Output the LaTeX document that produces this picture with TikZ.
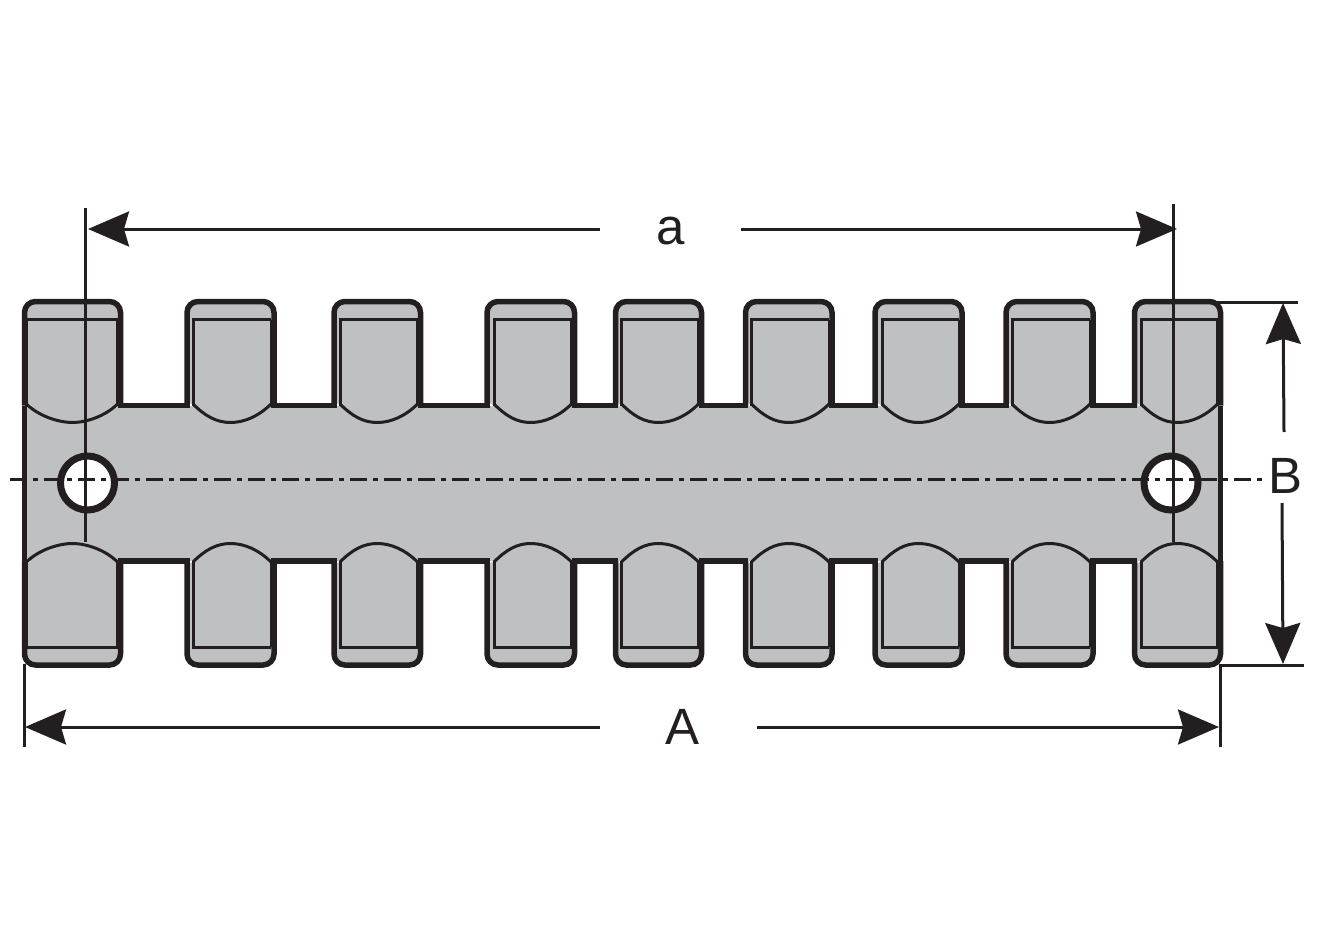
\documentclass[tikz,border=0pt]{standalone}
\usepackage{fontspec}
\setmainfont{Liberation Sans}
\usetikzlibrary{arrows.meta}
\definecolor{ink}{HTML}{231F20}
\definecolor{bodygrey}{HTML}{BFC0C2}
\tikzset{
  outline/.style={draw=ink,line width=5.5pt},
  innerline/.style={draw=ink,line width=3pt},
  dimline/.style={draw=ink,line width=3pt},
  dimarrow/.style={draw=ink,line width=3pt,-{Stealth[length=41pt,width=35pt,inset=5pt,fill=ink]}},
  centreline/.style={draw=ink,line width=3pt,dash pattern=on 17pt off 6pt on 5pt off 6pt},
  dimlabel/.style={text=ink,inner sep=0pt,font=\fontsize{51}{51}\selectfont},
  hole/.style={draw=ink,line width=7pt,fill=white,circle,minimum size=54pt,inner sep=0pt}
}
\begin{document}
\begin{tikzpicture}[x=1pt,y=-1pt]
\useasboundingbox (0,0) rectangle (1322,944);
\def\R{11}
\def\YT{301.5}\def\YB{665}\def\YNT{405.5}\def\YNB{561}
% body fill
\fill[bodygrey] (24.5,\YNT) rectangle (1220.5,\YNB);
% teeth: left/right/offset of left inner wall/next tooth's left edge
\foreach \l/\r/\o/\n in {24.5/120.5/2/187,187/274/6/334,334/420.5/6/487,487/574.5/7/615.5,615.5/701.5/6/745.5,745.5/832/6/875,875/962/7/1006,1006/1093/6/1134.5,1134.5/1220.5/6.5/0}{
  \pgfmathsetmacro{\il}{\l+\o}
  \pgfmathsetmacro{\ir}{\r-3}
  \pgfmathsetmacro{\m}{(\l+\r)/2}
  % fills
  \fill[bodygrey,rounded corners=\R pt] (\l,\YNT+1) -- (\l,\YT) -- (\r,\YT) -- (\r,\YNT+1) -- cycle;
  \fill[bodygrey,rounded corners=\R pt] (\l,\YNB-1) -- (\l,\YB) -- (\r,\YB) -- (\r,\YNB-1) -- cycle;
  % outer contour of the tooth
  \draw[outline,rounded corners=\R pt] (\l,\YNT) -- (\l,\YT) -- (\r,\YT) -- (\r,\YNT);
  \draw[outline,rounded corners=\R pt] (\l,\YNB) -- (\l,\YB) -- (\r,\YB) -- (\r,\YNB);
  % cap lines and inner walls
  \draw[innerline] (\il-1.5,319.5) -- (\ir,319.5);
  \draw[innerline] (\il-1.5,647) -- (\ir,647);
  \draw[innerline] (\il,319.5) -- (\il,\YNT);
  \draw[innerline] (\ir,319.5) -- (\ir,\YNT);
  \draw[innerline] (\il,\YNB) -- (\il,647);
  \draw[innerline] (\ir,\YNB) -- (\ir,647);
  % root arcs
  \draw[innerline] (\il,404) .. controls (\il+12,416) and (\m-14,422.5) .. (\m,422.5) .. controls (\m+14,422.5) and (\ir-12,416) .. (\ir,404);
  \draw[innerline] (\il,562) .. controls (\il+12,550) and (\m-14,543.5) .. (\m,543.5) .. controls (\m+14,543.5) and (\ir-12,550) .. (\ir,562);
  % notch lines to the next tooth
  \ifdim\n pt>1pt
    \draw[outline] (\r-2.75,\YNT) -- (\n+2.75,\YNT);
    \draw[outline] (\r-2.75,\YNB) -- (\n+2.75,\YNB);
  \fi
}
% body ends
\draw[outline] (24.5,\YNT) -- (24.5,\YNB);
\draw[outline] (1220.5,\YNT) -- (1220.5,\YNB);
% holes
\node[hole] (holeL) at (87.5,483) {};
\node[hole] (holeR) at (1171,483) {};
% labels
\node[dimlabel] (la) at (671,231) {a};
\node[dimlabel] (lA) at (682,727) {A};
\node[dimlabel] (lB) at (1285,476) {B};
% free ends of the dimension lines
\coordinate (aL) at (88,229);   \coordinate (aLs) at (600,229);
\coordinate (aR) at (1177,229); \coordinate (aRs) at (741,229);
\coordinate (AL) at (25,727);   \coordinate (ALs) at (600,727);
\coordinate (AR) at (1219,727); \coordinate (ARs) at (757,727);
\coordinate (BT) at (1283,303); \coordinate (BTs) at (1284,432);
\coordinate (BB) at (1283,664); \coordinate (BBs) at (1282,503);
\coordinate (cL) at (10,479);   \coordinate (cR) at (1265,479);
% centre and extension lines
\draw[centreline] (cL) -- (cR);
\draw[dimline] (85,208) -- (85,542);
\draw[dimline] (1173,204) -- (1173,542);
\draw[dimline] (24,664) -- (24,747);
\draw[dimline] (1220.5,664) -- (1220.5,747);
\draw[dimline] (1215,302) -- (1298,302);
\draw[dimline] (1220,665.5) -- (1304,665.5);
% dimension arrows
\draw[dimarrow] (aLs) -- (aL);
\draw[dimarrow] (aRs) -- (aR);
\draw[dimarrow] (ALs) -- (AL);
\draw[dimarrow] (ARs) -- (AR);
\draw[dimarrow] (BTs) -- (BT);
\draw[dimarrow] (BBs) -- (BB);
\end{tikzpicture}
\end{document}
